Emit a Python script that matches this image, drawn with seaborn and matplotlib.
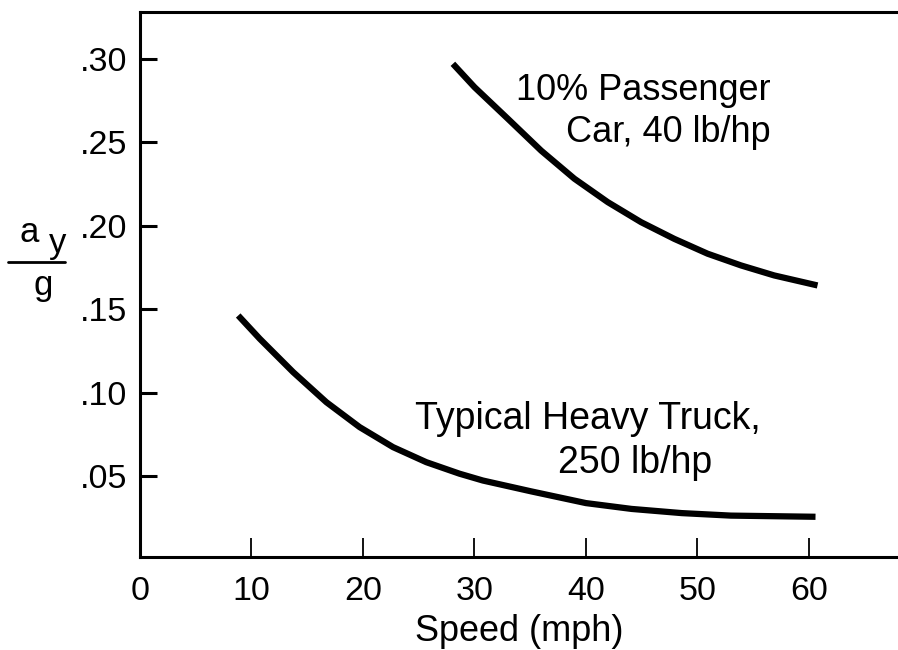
import matplotlib
matplotlib.use('Agg')
import matplotlib.pyplot as plt
from matplotlib.lines import Line2D
import seaborn as sns

# values
car_speed = [28.07, 30.01, 33.00, 35.99, 38.97, 41.96, 44.95, 47.93, 50.92, 53.91, 56.89, 60.78]
car_ay = [0.2970, 0.2830, 0.2641, 0.2450, 0.2282, 0.2142, 0.2022, 0.1922, 0.1833, 0.1763, 0.1703, 0.1643]

truck_speed = [8.81, 10.74, 13.74, 16.72, 19.70, 22.70, 25.68, 28.66, 30.76, 35.1, 40.0, 44.1, 48.6, 53.0, 60.6]
truck_ay = [0.1463, 0.1324, 0.1124, 0.0944, 0.0795, 0.0675, 0.0585, 0.0516, 0.0475, 0.041, 0.034, 0.0305, 0.028, 0.0265, 0.0258]

x_ticks = [0, 10, 20, 30, 40, 50, 60]
y_ticks = [0.05, 0.10, 0.15, 0.20, 0.25, 0.30]
y_tick_labels = ['.05', '.10', '.15', '.20', '.25', '.30']

sns.set_theme(style='ticks')
plt.rcParams['font.family'] = ['Liberation Sans', 'DejaVu Sans']
plt.rcParams['text.color'] = 'black'
plt.rcParams['axes.labelcolor'] = 'black'
plt.rcParams['xtick.color'] = 'black'
plt.rcParams['ytick.color'] = 'black'

fig = plt.figure(figsize=(8.98, 6.5), dpi=100)
ax = fig.add_axes([0.1559, 0.1438, 0.8441, 0.8377])

sns.lineplot(x=car_speed, y=car_ay, ax=ax, color='black', linewidth=4.5, sort=False)
sns.lineplot(x=truck_speed, y=truck_ay, ax=ax, color='black', linewidth=4.5, sort=False)
for ln in ax.lines:
    ln.set_solid_capstyle('butt')
    ln.set_solid_joinstyle('round')

ax.set_xlim(0.1, 68)
ax.set_ylim(0.002, 0.328)
ax.set_xticks(x_ticks)
ax.set_xticklabels([str(t) for t in x_ticks], fontsize=24.5)
ax.set_yticks(y_ticks)
ax.set_yticklabels(y_tick_labels, fontsize=24.5)
ax.tick_params(axis='x', direction='in', length=14, width=1.3, pad=14)
ax.tick_params(axis='y', direction='in', length=12, width=2.2, pad=9)

for side in ['left', 'bottom', 'top']:
    ax.spines[side].set_linewidth(2.2)
    ax.spines[side].set_color('black')
ax.spines['right'].set_visible(False)

ax.set_xlabel('Speed (mph)', fontsize=26, labelpad=5)
ax.set_ylabel('')

# curve labels
ax.text(771 / 898, 1 - 90 / 650, '10% Passenger', transform=fig.transFigure,
        ha='right', va='center', fontsize=26)
ax.text(771 / 898, 1 - 133 / 650, 'Car, 40 lb/hp', transform=fig.transFigure,
        ha='right', va='center', fontsize=26)
ax.text(415 / 898, 1 - 419 / 650, 'Typical Heavy Truck,', transform=fig.transFigure,
        ha='left', va='center', fontsize=27)
ax.text(558 / 898, 1 - 463 / 650, '250 lb/hp', transform=fig.transFigure,
        ha='left', va='center', fontsize=27)

# a_y / g axis label
fig.text(29 / 898, 1 - 233 / 650, 'a', ha='center', va='center', fontsize=25)
fig.text(58 / 898, 1 - 243 / 650, 'y', ha='center', va='center', fontsize=25)
fig.add_artist(Line2D([8 / 898, 65 / 898], [1 - 262 / 650, 1 - 262 / 650],
                      transform=fig.transFigure, color='black', linewidth=2))
fig.text(43 / 898, 1 - 285 / 650, 'g', ha='center', va='center', fontsize=25)

fig.savefig('out.png', dpi=100, facecolor='white')
